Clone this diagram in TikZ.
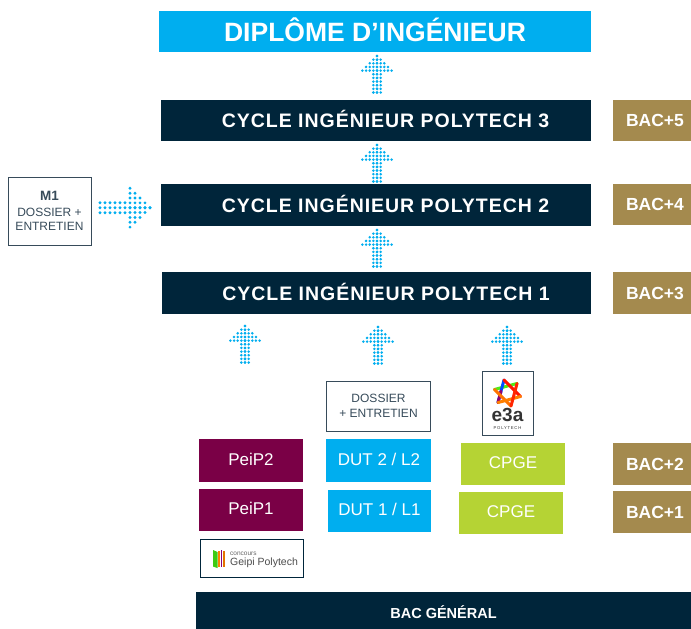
\documentclass[tikz,border=0pt]{standalone}
\usepackage{fontspec}
\usetikzlibrary{calc}
\setmainfont{Liberation Sans}
\definecolor{navy}{RGB}{0,37,58}
\definecolor{sky}{RGB}{0,174,239}
\definecolor{gold}{RGB}{164,138,78}
\definecolor{plum}{RGB}{122,0,70}
\definecolor{lime}{RGB}{181,211,52}
\definecolor{greytext}{RGB}{55,75,90}
\tikzset{
  x=1pt,y=-1pt,
  fillbox/.style={anchor=center,inner sep=0pt,outer sep=0pt},
  cyclebox/.style={text height=14pt,text depth=0pt,font=\bfseries\fontsize{19.5}{21}\selectfont\addfontfeature{LetterSpace=5},text=white,fill=navy},
  bacbox/.style={text height=12.6pt,text depth=0pt,font=\bfseries\fontsize{17.5}{19}\selectfont,text=white,fill=gold},
  plumbox/.style={text height=12.2pt,text depth=3pt,font=\fontsize{17}{19}\selectfont,text=white,fill=plum},
  skybox/.style={text height=12.2pt,text depth=3pt,font=\fontsize{17}{19}\selectfont,text=white,fill=sky},
  limebox/.style={text height=12.2pt,text depth=3pt,font=\fontsize{17}{19}\selectfont,text=white,fill=lime},
  framebox/.style={draw=greytext,line width=1pt,fill=white,text=greytext,align=center,font=\fontsize{12}{14.5}\selectfont},
  dot/.style={fill=sky,draw=none},
  pics/uparrow/.style={code={
    \foreach \r/\n in {0/0,1/1,2/2,3/3,4/4,5/1,6/1,7/1,8/1,9/1,10/1}{
      \foreach \c in {0,1,2,3,4}{
        \ifnum\c>\n\relax\else
        \fill[dot] ({\c*3.65},{\r*3.65}) circle (1.4);
        \fill[dot] ({-\c*3.65},{\r*3.65}) circle (1.4);
        \fi
      }
    }
  }},
  pics/rightarrow/.style={code={
    \foreach \c in {0,1,2,3,4,5}{\foreach \r in {-5,0,5}{\fill[dot] ({\c*5},{\r}) circle (1.6);}}
    \foreach \c/\n in {6/4,7/3,8/2,9/1,10/0}{
      \foreach \r in {0,1,2,3,4}{
        \ifnum\r>\n\relax\else
        \fill[dot] ({\c*5},{\r*4.85}) circle (1.6);
        \fill[dot] ({\c*5},{-\r*4.85}) circle (1.6);
        \fi
      }
    }
  }}
}
\newcommand{\boxat}[7]{% style, name, x0,y0,x1,y1, text
  \node[fillbox,#1,minimum width=#5-#3,minimum height=#6-#4] (#2) at ({(#3+#5)/2},{(#4+#6)/2}) {#7};}
\begin{document}
\begin{tikzpicture}[x=1pt,y=-1pt]
\useasboundingbox (0,0) rectangle (691,629);
\fill[white] (0,0) rectangle (691,629);
\boxat{text height=19pt,text depth=0pt,fill=sky,text=white,font=\bfseries\fontsize{26.5}{28}\selectfont}{dip}{159}{11}{591}{52}{DIPLÔME D’INGÉNIEUR}
\boxat{cyclebox}{c3}{161}{100}{591}{141}{\hspace*{19pt}CYCLE INGÉNIEUR POLYTECH 3}
\boxat{cyclebox}{c2}{161}{184}{591}{226}{\hspace*{19pt}CYCLE INGÉNIEUR POLYTECH 2}
\boxat{cyclebox}{c1}{162}{272}{591}{314}{\hspace*{19pt}CYCLE INGÉNIEUR POLYTECH 1}
\boxat{bacbox}{b5}{613}{100}{691}{141}{\hspace*{6pt}BAC+5}
\boxat{bacbox}{b4}{613}{184}{691}{225}{\hspace*{6pt}BAC+4}
\boxat{bacbox}{b3}{613}{272}{691}{314}{\hspace*{6pt}BAC+3}
\boxat{bacbox}{b2}{613}{443}{691}{485}{\hspace*{6pt}BAC+2}
\boxat{bacbox}{b1}{613}{491}{691}{533}{\hspace*{6pt}BAC+1}
\boxat{plumbox}{p2}{199}{439}{303}{482}{PeiP2}
\boxat{plumbox}{p1}{199}{489}{303}{531}{PeiP1}
\boxat{skybox}{d2}{326}{439}{431}{482}{\hspace*{1pt}DUT 2 / L2}
\boxat{skybox}{d1}{328}{490}{431}{532}{DUT 1 / L1}
\boxat{limebox}{cp2}{461}{443}{565}{485}{CPGE}
\boxat{limebox}{cp1}{459}{492}{563}{534}{CPGE}
\boxat{text height=10.4pt,text depth=0pt,fill=navy,text=white,font=\bfseries\fontsize{14.5}{16}\selectfont}{bg}{196}{592}{691}{629}{\raisebox{-2.5pt}{BAC GÉNÉRAL}}
\boxat{framebox}{m1}{8}{177}{91}{245}{{\bfseries\fontsize{13.5}{15}\selectfont M1}\\[1pt]DOSSIER +\\ENTRETIEN}
\boxat{framebox}{dos}{326.5}{381}{430.5}{431}{DOSSIER\\+ ENTRETIEN}
\boxat{framebox}{e3a}{482}{371}{533}{435}{}
\boxat{framebox,line width=0.9pt,draw=navy}{gei}{200}{539}{303}{577}{}
% dotted arrows
\pic at (377,56) {uparrow};
\pic at (377,145) {uparrow};
\pic at (377,230) {uparrow};
\pic at (245,326) {uparrow};
\pic at (378,327) {uparrow};
\pic at (507,327) {uparrow};
\pic at (100,207.7) {rightarrow};
% e3a logo
\begin{scope}[shift={(507.5,393)},line width=3pt,line cap=round,line join=round]
\coordinate (s1) at (15:13.5);
\coordinate (s2) at (75:13.5);
\coordinate (s3) at (135:13.5);
\coordinate (s4) at (195:13.5);
\coordinate (s5) at (255:13.5);
\coordinate (s6) at (315:13.5);
\draw[green!55!lime] (s6) -- (s4);
\draw[blue!70!cyan] (s3) -- (s5);
\draw[purple!75!blue] (s3) -- ($(s3)!0.5!(s5)$);
\draw[orange!90!red] (s4) -- (s2);
\draw[red!85!orange] (s5) -- (s1);
\draw[orange] (s1) -- (s3);
\draw[red!70!orange] (s2) -- (s6);
\end{scope}
\node[font=\bfseries\fontsize{19}{19}\selectfont,text=black!80,inner sep=0pt,text height=10pt,text depth=0pt] (e3atxt) at (507.5,416) {e3a};
\node[font=\fontsize{4.2}{4}\selectfont\addfontfeature{LetterSpace=18},text=black!80,inner sep=0pt] (e3asub) at (507.5,428) {POLYTECH};
% Geipi logo
\fill[green!60!lime!85!black] (213,550) -- (217.5,552) -- (217.5,568) -- (213,566.5) -- cycle;
\fill[orange] (218.3,551) rectangle (220,567);
\fill[purple!70!blue] (220.5,550) rectangle (222.3,567);
\fill[orange!90!black] (222.8,551) rectangle (224.5,567);
\node[anchor=west,inner sep=0pt,font=\fontsize{6.5}{7}\selectfont,text=black!60] (geic) at (230,554) {concours};
\node[anchor=west,inner sep=0pt,font=\fontsize{10.5}{12}\selectfont,text=black!70] (geip) at (230,562.5) {Geipi Polytech};
\end{tikzpicture}
\end{document}
